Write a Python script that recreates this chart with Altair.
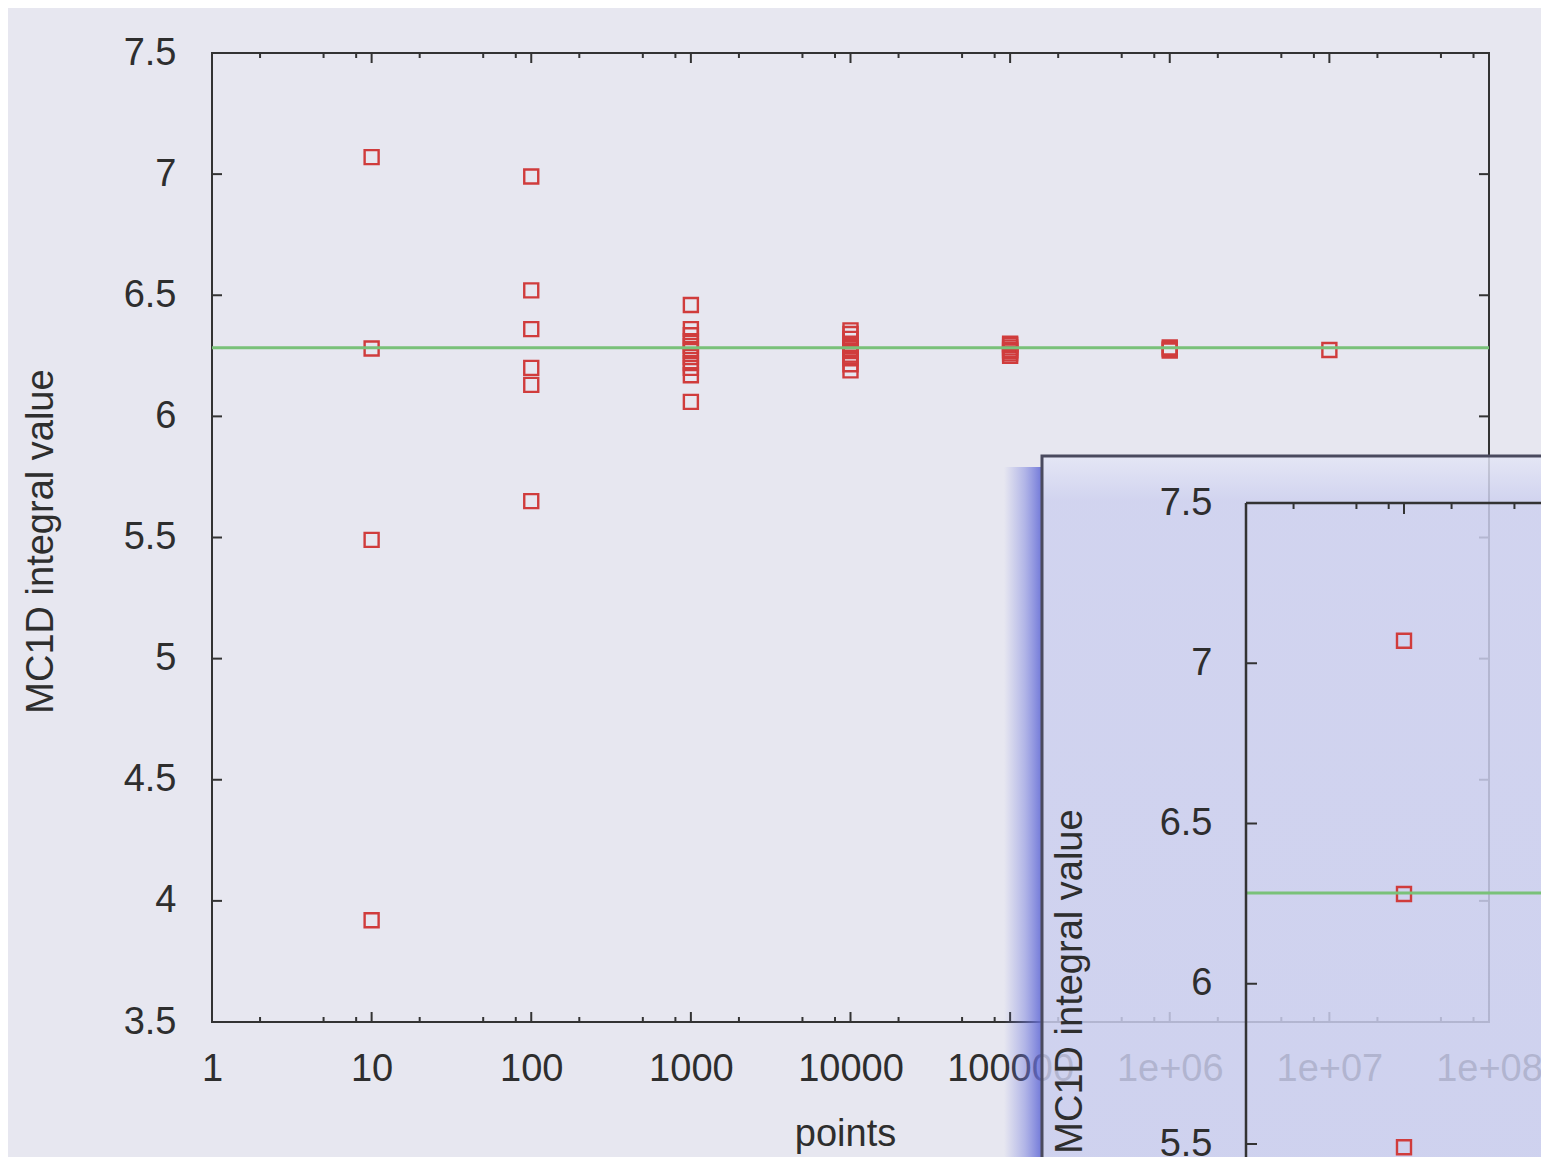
import altair as alt
import pandas as pd

# ---------------- data ----------------
N_VALUES = [10, 100, 1000, 10000, 100000, 1000000, 10000000]
EST_N10 = [7.07, 6.28, 5.49, 3.92]
EST_N100 = [6.99, 6.52, 6.36, 6.20, 6.13, 5.65]
EST_N1000 = [6.46, 6.36, 6.335, 6.31, 6.29, 6.27, 6.245, 6.22, 6.20, 6.17, 6.06]
EST_N10000 = [6.355, 6.34, 6.32, 6.30, 6.29, 6.28, 6.27, 6.255, 6.24, 6.215, 6.19]
EST_N100000 = [6.30, 6.295, 6.285, 6.275, 6.27, 6.26, 6.25]
EST_N1000000 = [6.285, 6.278, 6.272]
EST_N10000000 = [6.274]
EXACT_VALUE = 6.2832

X_TICKS = [1, 10, 100, 1000, 10000, 100000, 1000000, 10000000, 100000000]
X_TICK_LABELS = ["1", "10", "100", "1000", "10000", "100000", "1e+06", "1e+07", "1e+08"]
X_MINOR_MULT = [2, 5, 8]
Y_TICKS = [3.5, 4, 4.5, 5, 5.5, 6, 6.5, 7, 7.5]
Y_TICK_LABELS = ["3.5", "4", "4.5", "5", "5.5", "6", "6.5", "7", "7.5"]

X_TITLE = "points"
Y_TITLE = "MC1D integral value"

# ---------------- tables ----------------
rows = []
for n, vals in zip(N_VALUES, [EST_N10, EST_N100, EST_N1000, EST_N10000,
                              EST_N100000, EST_N1000000, EST_N10000000]):
    for v in vals:
        rows.append({"n": n, "v": v})
df_pts = pd.DataFrame(rows)
df_exact = pd.DataFrame({"x0": [X_TICKS[0]], "x1": [X_TICKS[-1]], "v": [EXACT_VALUE]})
df_xmaj = pd.DataFrame({"t": X_TICKS, "lo": Y_TICKS[0], "hi": Y_TICKS[-1]})
x_minor = [m * t for t in X_TICKS[:-1] for m in X_MINOR_MULT]
df_xmin = pd.DataFrame({"t": x_minor, "lo": Y_TICKS[0], "hi": Y_TICKS[-1]})
df_yt = pd.DataFrame({"t": Y_TICKS, "lo": X_TICKS[0], "hi": X_TICKS[-1]})
df_frame = pd.DataFrame({"x0": [X_TICKS[0]], "x1": [X_TICKS[-1]],
                         "y0": [Y_TICKS[0]], "y1": [Y_TICKS[-1]]})
df_one = pd.DataFrame({"a": [0]})

x_label_expr = "[" + ",".join("'%s'" % s for s in X_TICK_LABELS) + "][round(log(datum.value)/LN10)]"
y_label_expr = "[" + ",".join("'%s'" % s for s in Y_TICK_LABELS) + "][round((datum.value-%s)*2)]" % Y_TICKS[0]

FRAME = "#333333"
RED = "#d03c3c"
GREEN = "#79c179"
TXT = "#2e2e2e"
FONT = "Liberation Sans"

W, H = 1277, 969


def tick_layers(xs, ys, sides, major=10, minor=5):
    out = []
    for side in sides:
        if side in ("bottom", "top"):
            field = "lo" if side == "bottom" else "hi"
            sign = -1 if side == "bottom" else 1
            for df, sz in ((df_xmaj, major), (df_xmin, minor)):
                out.append(
                    alt.Chart(df).mark_tick(orient="vertical", size=sz, thickness=2,
                                            color=FRAME, opacity=1, yOffset=sign * sz / 2)
                    .encode(x=alt.X("t:Q", scale=xs, axis=None),
                            y=alt.Y(field + ":Q", scale=ys, axis=None))
                )
        else:
            field = "lo" if side == "left" else "hi"
            sign = 1 if side == "left" else -1
            out.append(
                alt.Chart(df_yt).mark_tick(orient="horizontal", size=major, thickness=2,
                                           color=FRAME, opacity=1, xOffset=sign * major / 2)
                .encode(x=alt.X(field + ":Q", scale=xs, axis=None),
                        y=alt.Y("t:Q", scale=ys, axis=None))
            )
    return out


# ---------------- main chart ----------------
xs_main = alt.Scale(type="log", domain=[X_TICKS[0], X_TICKS[-1]], nice=False)
ys_main = alt.Scale(domain=[Y_TICKS[0], Y_TICKS[-1]], nice=False, zero=False)

main_points = alt.Chart(df_pts).mark_point(
    shape="square", filled=False, size=196, strokeWidth=2.4, color=RED, opacity=1
).encode(
    x=alt.X("n:Q", scale=xs_main, axis=alt.Axis(
        orient="bottom",
        values=X_TICKS, labelExpr=x_label_expr, ticks=False, domain=False, grid=False,
        labelFlush=False, labelOverlap=False, labelPadding=28, labelFontSize=38,
        title=X_TITLE, titleX=633, titleY=93, titleFontSize=38)),
    y=alt.Y("v:Q", scale=ys_main, axis=alt.Axis(
        orient="left",
        values=Y_TICKS, labelExpr=y_label_expr, ticks=False, domain=False, grid=False,
        labelPadding=36, labelFontSize=38, labelOverlap=False,
        title=Y_TITLE, titleX=-152, titleY=488, titleFontSize=38)),
)
main_rule = alt.Chart(df_exact).mark_rule(color=GREEN, strokeWidth=3).encode(
    x=alt.X("x0:Q", scale=xs_main, axis=None), x2="x1:Q",
    y=alt.Y("v:Q", scale=ys_main, axis=None),
)
main_layers = [main_points, main_rule] + tick_layers(xs_main, ys_main, ["bottom", "top", "left", "right"])

# ---------------- inset (enlarged copy overlapping the slide) ----------------
xs_in = alt.Scale(type="log", domain=[X_TICKS[0], X_TICKS[-1]], nice=False, range=[1034, 2298])
ys_in = alt.Scale(domain=[Y_TICKS[0], Y_TICKS[-1]], nice=False, zero=False, range=[1732, 450])

shadow = alt.Chart(df_one).mark_rect(
    fill=alt.LinearGradient(
        gradient="linear", x1=0, x2=1, y1=0, y2=0,
        stops=[alt.GradientStop(color="rgba(120,128,222,0)", offset=0),
               alt.GradientStop(color="rgba(112,120,220,0.45)", offset=0.55),
               alt.GradientStop(color="rgba(100,108,214,0.9)", offset=1)]),
).encode(x=alt.value(792), x2=alt.value(830), y=alt.value(414), y2=alt.value(1200))

inset_bg = alt.Chart(df_one).mark_rect(
    fill=alt.LinearGradient(
        gradient="linear", x1=0, x2=0, y1=0, y2=1,
        stops=[alt.GradientStop(color="#e4e6f6", offset=0),
               alt.GradientStop(color="#cdd0ef", offset=0.05),
               alt.GradientStop(color="#c9cdee", offset=1)]),
    fillOpacity=0.84, stroke="#4a4a5e", strokeWidth=3,
).encode(x=alt.value(830), x2=alt.value(1400), y=alt.value(403), y2=alt.value(1300))

inset_points = alt.Chart(df_pts).mark_point(
    shape="square", filled=False, size=196, strokeWidth=2.4, color=RED, opacity=1
).encode(
    x=alt.X("n:Q", scale=xs_in, axis=None),
    y=alt.Y("v:Q", scale=ys_in, axis=alt.Axis(
        orient="left", offset=-1034,
        values=Y_TICKS, labelExpr=y_label_expr, ticks=False, domain=False, grid=False,
        labelPadding=34, labelFontSize=38, labelOverlap=False,
        title=Y_TITLE, titleX=-157, titleY=928, titleFontSize=38, zindex=1)),
)
inset_rule = alt.Chart(df_exact).mark_rule(color=GREEN, strokeWidth=3).encode(
    x=alt.X("x0:Q", scale=xs_in, axis=None), x2="x1:Q",
    y=alt.Y("v:Q", scale=ys_in, axis=None),
)
inset_left = alt.Chart(df_frame).mark_rule(color=FRAME, strokeWidth=2.5).encode(
    x=alt.X("x0:Q", scale=xs_in, axis=None),
    y=alt.Y("y0:Q", scale=ys_in, axis=None), y2="y1:Q",
)
inset_top = alt.Chart(df_frame).mark_rule(color=FRAME, strokeWidth=2.5).encode(
    x=alt.X("x0:Q", scale=xs_in, axis=None), x2="x1:Q",
    y=alt.Y("y1:Q", scale=ys_in, axis=None),
)
inset_layers = [shadow, inset_bg, inset_points, inset_rule, inset_left, inset_top] + \
    tick_layers(xs_in, ys_in, ["top", "left"], major=11, minor=6)

chart = alt.layer(*main_layers, *inset_layers).resolve_scale(
    x="independent", y="independent"
).properties(
    width=W, height=H,
    autosize=alt.AutoSizeParams(type="none"),
    padding={"left": 204, "top": 45, "right": 52, "bottom": 135},
    background="#e7e7f0",
).configure_view(
    stroke=FRAME, strokeWidth=2
).configure_axis(
    labelFont=FONT, titleFont=FONT, titleFontWeight="normal",
    labelColor=TXT, titleColor=TXT,
)

chart.save("out.html", embed_options={"renderer": "svg", "actions": False})
